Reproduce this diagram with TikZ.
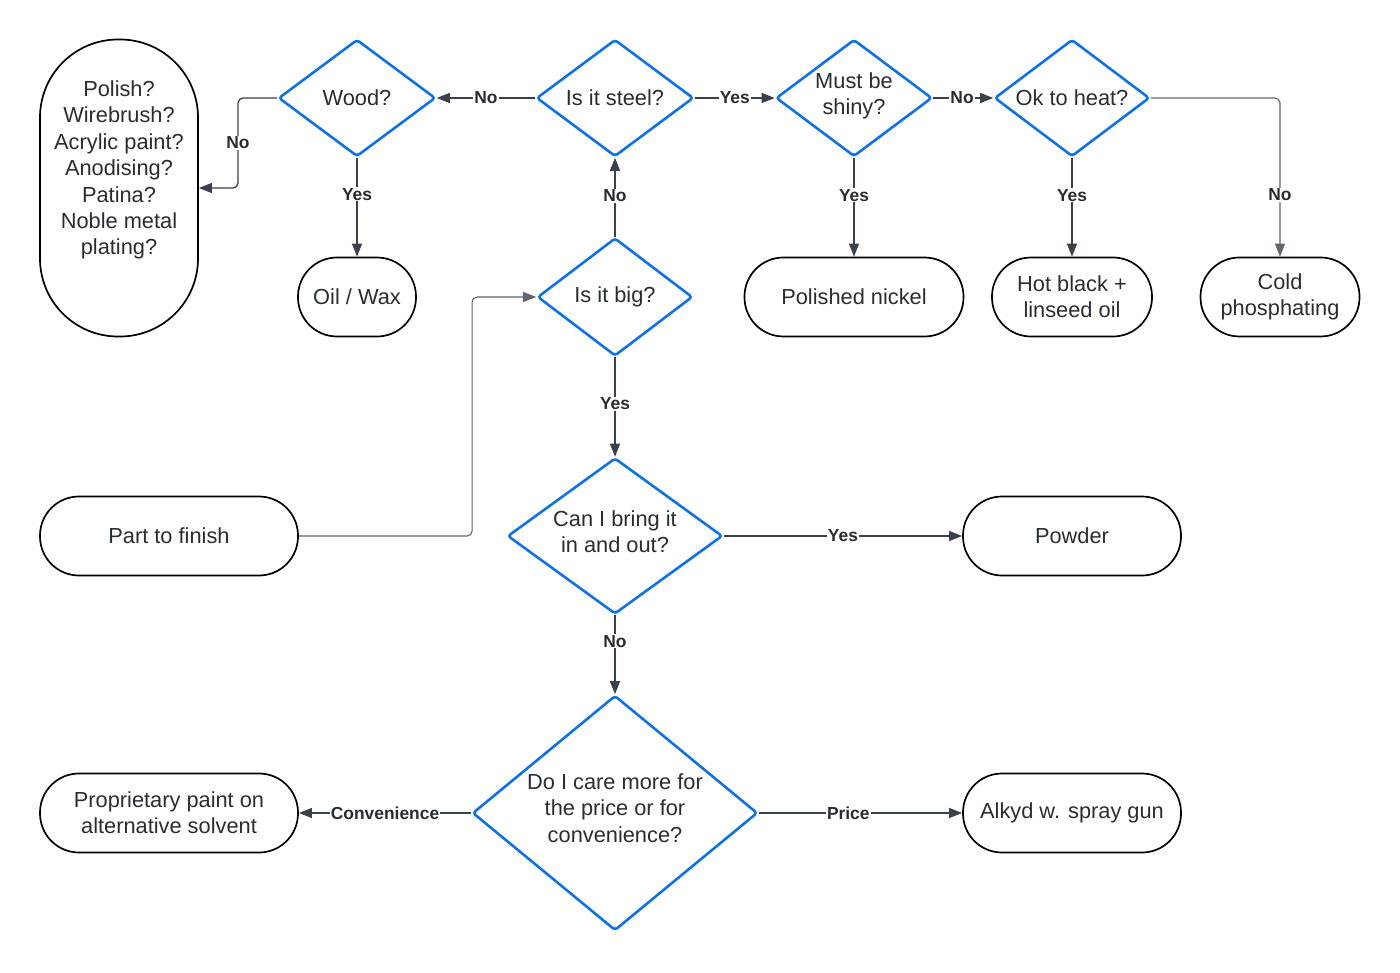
\documentclass[tikz,border=0pt]{standalone}
\usepackage{fontspec}
\setmainfont{Liberation Sans}
\usetikzlibrary{shapes.geometric,arrows.meta,calc}
\definecolor{lblue}{HTML}{1071E5}
\definecolor{ink}{HTML}{282C33}
\definecolor{wire}{HTML}{3A414A}
\definecolor{wiregrey}{HTML}{5F6670}
\begin{document}
\begin{tikzpicture}[x=1pt,y=-1pt,
  txt/.style={align=center, text=ink, inner sep=0pt, font=\fontsize{21.8}{26.4}\selectfont},
  dec/.style={diamond, draw=lblue, line width=2.6pt, rounded corners=3pt, inner sep=0pt},
  term/.style={rectangle, draw=black, line width=1.7pt, rounded corners=39pt,
    minimum height=79pt, inner sep=0pt, align=center, text=ink, font=\fontsize{21.8}{26.4}\selectfont},
  arr/.style={draw=wire, line width=1.3pt, -{Triangle[length=13pt,width=10pt]}},
  arrg/.style={arr, draw=wiregrey, line width=1.1pt, rounded corners=5pt},
  lbl/.style={fill=white, inner sep=1pt, text=ink, font=\fontsize{17.4}{19}\selectfont\bfseries}
]
\useasboundingbox (0,0) rectangle (1400,973);

% decisions
\node[dec, minimum width=157pt, minimum height=117pt, label={[txt]center:Wood?}] (wood)  at (357,98) {};
\node[dec, minimum width=157pt, minimum height=117pt, label={[txt]center:Is it steel?}] (steel) at (615,98) {};
\node[dec, minimum width=156pt, minimum height=117pt, label={[txt, yshift=2pt]center:Must be\\shiny?}] (shiny) at (854,98) {};
\node[dec, minimum width=155pt, minimum height=117pt, label={[txt]center:Ok to heat?}] (heat)  at (1072,98) {};
\node[dec, minimum width=155pt, minimum height=118pt, label={[txt]center:Is it big?}] (big)   at (615,297) {};
\node[dec, minimum width=215pt, minimum height=156pt, label={[txt, yshift=4pt]center:Can I bring it\\in and out?}] (bring) at (615,536) {};
\node[dec, minimum width=285pt, minimum height=235pt, label={[txt, yshift=5pt]center:Do I care more for\\the price or for\\convenience?}] (care)  at (615,813) {};

% terminals
\node[term, minimum width=158pt, minimum height=297pt, rounded corners=78pt,
  label={[txt, yshift=18pt]center:Polish?\\Wirebrush?\\Acrylic paint?\\Anodising?\\Patina?\\Noble metal\\plating?}] (polish) at (119,188) {};
\node[term, minimum width=118pt] (oil)    at (357,297) {Oil / Wax};
\node[term, minimum width=219pt] (nickel) at (854,297) {Polished nickel};
\node[term, minimum width=160pt] (hot)    at (1072,297) {Hot black +\\linseed oil};
\node[term, minimum width=159pt] (cold)   at (1280,297) {Cold\\phosphating};
\node[term, minimum width=258pt] (part)   at (169,536) {Part to finish};
\node[term, minimum width=218pt] (powder) at (1072,536) {Powder};
\node[term, minimum width=258pt] (prop)   at (169,813) {Proprietary paint on\\alternative solvent};
\node[term, minimum width=218pt] (alkyd)  at (1072,813) {Alkyd w. spray gun};

% connectors
\coordinate (wmid) at ($(wood.west)!0.5!(polish.east)$);
\draw[arr, rounded corners=5pt] (wood.west) -- (wood.west -| wmid) -- (polish.east -| wmid) -- (polish.east);
\node[lbl] at (wmid) {No};

\draw[arr] (wood.south) -- node[lbl, pos=0.37] {Yes} (oil.north);
\draw[arr] (steel.west) -- node[lbl, pos=0.5] {No} (wood.east);
\draw[arr] (steel.east) -- node[lbl, pos=0.5] {Yes} (shiny.west);
\draw[arr] (shiny.east) -- node[lbl, pos=0.48] {No} (heat.west);
\draw[arr] (shiny.south) -- node[lbl, pos=0.38] {Yes} (nickel.north);
\draw[arr] (heat.south) -- node[lbl, pos=0.38] {Yes} (hot.north);
\draw[arrg] (heat.east) -| node[lbl, pos=0.806] {No} (cold.north);
\draw[arr] (big.north) -- node[lbl, pos=0.52] {No} (steel.south);

\coordinate (pmid) at ($(part.east)!0.73!(big.west)$);
\draw[arrg] (part.east) -- (part.east -| pmid) -- (big.west -| pmid) -- (big.west);

\draw[arr] (big.south) -- node[lbl, pos=0.47] {Yes} (bring.north);
\draw[arr] (bring.east) -- node[lbl, pos=0.5] {Yes} (powder.west);
\draw[arr] (bring.south) -- node[lbl, pos=0.33] {No} (care.north);
\draw[arr] (care.west) -- node[lbl, pos=0.5] {Convenience} (prop.east);
\draw[arr] (care.east) -- node[lbl, pos=0.44] {Price} (alkyd.west);
\end{tikzpicture}
\end{document}
